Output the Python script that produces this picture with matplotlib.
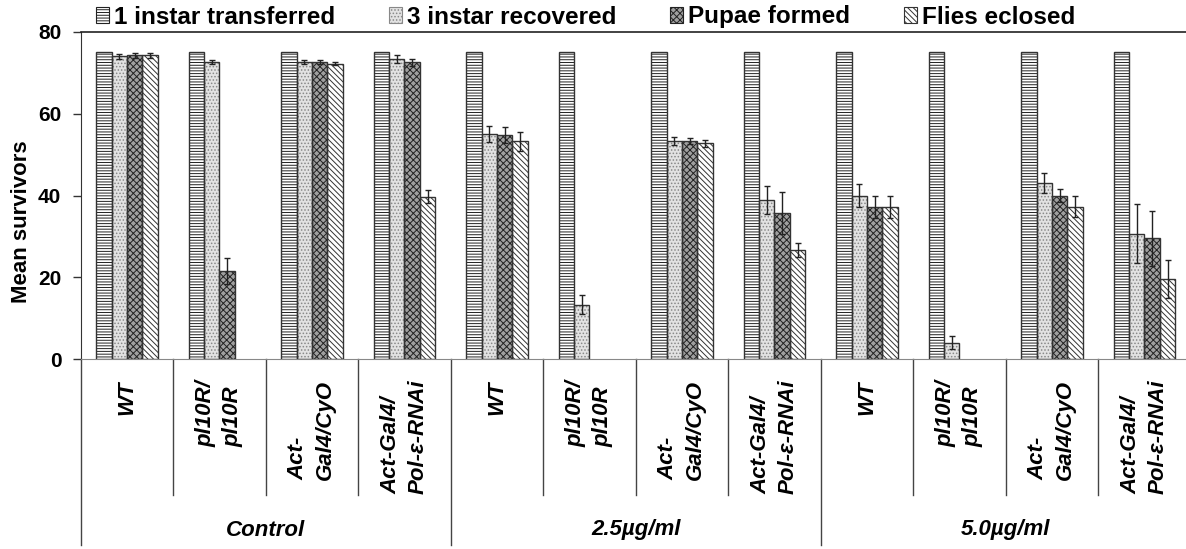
import numpy as np
import matplotlib
matplotlib.use("Agg")
import matplotlib.pyplot as plt
from matplotlib.patches import Patch

plt.rcParams['font.family'] = ['Liberation Sans', 'DejaVu Sans']
plt.rcParams['hatch.linewidth'] = 0.7

series = ["1 instar transferred", "3 instar recovered", "Pupae formed", "Flies eclosed"]
genotypes = ["WT", "pl10R/\npl10R", "Act-\nGal4/CyO", "Act-Gal4/\nPol-\u03b5-RNAi"]
treatments = ["Control", "2.5\u00b5g/ml", "5.0\u00b5g/ml"]

# one row per bar group (treatment x genotype), columns = series
means = np.array([
    [75, 74.0, 74.2, 74.2],
    [75, 72.6, 21.5, 0],
    [75, 72.7, 72.5, 72.2],
    [75, 73.3, 72.5, 39.7],
    [75, 55.0, 54.7, 53.2],
    [75, 13.3, 0, 0],
    [75, 53.3, 53.3, 52.7],
    [75, 39.0, 35.8, 26.8],
    [75, 40.0, 37.3, 37.3],
    [75, 4.1, 0, 0],
    [75, 43.0, 40.0, 37.3],
    [75, 30.7, 29.5, 19.6],
])
errors = np.array([
    [0, 0.6, 0.6, 0.6],
    [0, 0.5, 3.2, 0],
    [0, 0.5, 0.5, 0.3],
    [0, 1.0, 0.8, 1.6],
    [0, 2.0, 2.0, 2.4],
    [0, 2.3, 0, 0],
    [0, 0.9, 0.7, 0.8],
    [0, 3.4, 5.1, 1.7],
    [0, 2.7, 2.7, 2.7],
    [0, 1.7, 0, 0],
    [0, 2.5, 1.6, 2.5],
    [0, 7.2, 6.8, 4.7],
])

faces = ['white', '#e2e2e2', '#a0a0a0', 'white']
hatches = ['------', '.....', 'xxxxx', '\\\\\\\\\\\\']
hcolors = ['#222222', '#888888', '#222222', '#333333']

W, H = 1186, 549
fig = plt.figure(figsize=(W / 100, H / 100), dpi=100)
left, bottom, top = 80.7, 359.3, 31.7
gw = 92.5
ax = fig.add_axes([left / W, (H - bottom) / H, 12 * gw / W, (bottom - top) / H])

ng = means.shape[0]
bw = 1 / 6
for k in range(4):
    x = np.arange(ng) + bw + bw * k + bw / 2
    vals = means[:, k]
    nz = vals > 0
    ax.bar(x[nz], vals[nz], bw, color=faces[k], hatch=hatches[k], edgecolor=hcolors[k],
           linewidth=0, zorder=2)
    ax.bar(x[nz], vals[nz], bw, fill=False, edgecolor='#333333', linewidth=1.0, zorder=3)
    m = errors[:, k] > 0
    if m.any():
        ax.errorbar(x[m], vals[m], yerr=errors[m, k], fmt='none', ecolor='#222222',
                    elinewidth=1.0, capsize=2.5, capthick=1.0, zorder=4)

ax.set_xlim(0, ng)
ax.set_ylim(0, 80)
ax.set_yticks([0, 20, 40, 60, 80])
ax.tick_params(axis='y', labelsize=15, length=6, width=1, pad=8, color='#333333')
for t in ax.get_yticklabels():
    t.set_fontweight('bold')
ax.set_xticks([])
ax.spines['right'].set_visible(False)
ax.spines['bottom'].set_color('#888888')
ax.spines['left'].set_color('#333333')
ax.spines['top'].set_color('#222222')
ax.spines['top'].set_linewidth(1.2)
ax.set_ylabel("Mean survivors", fontsize=16, fontweight='bold')
ax.yaxis.set_label_coords(-0.044, 0.42)

# category axis below the plot
tr = ax.get_xaxis_transform()
ph = bottom - top
y_minor = -(495 - bottom) / ph
y_major = -(545 - bottom) / ph
for i in range(ng + 1):
    yb = y_major if i % 4 == 0 else y_minor
    ax.plot([i, i], [0, yb], transform=tr, color='#444444', lw=1.0, clip_on=False)
for i in range(ng):
    ax.text(i + 0.5, -(380 - bottom) / ph, genotypes[i % 4], transform=tr, rotation=90,
            ha='center', va='top', multialignment='left', fontsize=16,
            fontweight='bold', fontstyle='italic', linespacing=1.4)
for j, name in enumerate(treatments):
    ax.text(4 * j + 2, -(530 - bottom) / ph, name, transform=tr, ha='center', va='center',
            fontsize=16, fontweight='bold', fontstyle='italic')

handles = [Patch(facecolor=faces[k], hatch=hatches[k], edgecolor=hcolors[k], linewidth=0.8)
           for k in range(4)]
fig.legend(handles, series, loc='center left', bbox_to_anchor=(96 / W, 1 - 17 / H), ncol=4,
           frameon=False, prop={'size': 17.5, 'weight': 'bold'}, handlelength=0.55,
           handleheight=0.6, handletextpad=0.2, columnspacing=2.2, borderpad=0, borderaxespad=0)

fig.savefig("out.png", dpi=100)
